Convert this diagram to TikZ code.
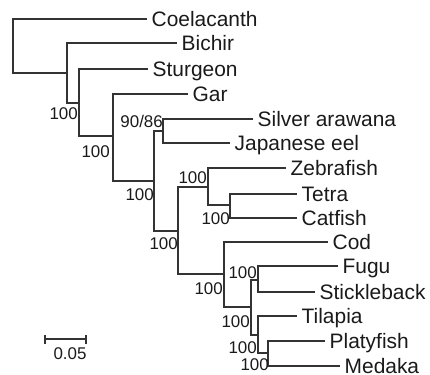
\documentclass[tikz,border=0pt]{standalone}
\usepackage{fontspec}
\setmainfont{Liberation Sans}
\definecolor{linec}{HTML}{333333}
\definecolor{textc}{HTML}{1A1A1A}
\begin{document}
\begin{tikzpicture}[x=1bp,y=-1bp,
  br/.style={draw=linec, line width=1.2bp},
  leaf/.style={anchor=west, inner xsep=4.5bp, inner ysep=0pt, text height=15bp, text depth=0pt, font=\fontsize{21}{24}\selectfont, text=textc},
  sup/.style={anchor=east, inner sep=0pt, text height=12.2bp, text depth=0pt, font=\fontsize{17}{20}\selectfont, text=textc}]
\useasboundingbox (0,0) rectangle (430,375);
% internal nodes
\coordinate (root) at (13,46);
\coordinate (nA) at (67,73);
\coordinate (nB) at (79,103);
\coordinate (nC) at (113,136);
\coordinate (nD) at (154,181);
\coordinate (nSE) at (163,131);
\coordinate (nE) at (178,231);
\coordinate (nZ) at (208,187);
\coordinate (nTC) at (230,205);
\coordinate (nF) at (224,274);
\coordinate (nG) at (251,307);
\coordinate (nFS) at (258,280);
\coordinate (nTPM) at (258,335);
\coordinate (nPM) at (268,353);
% leaves
\node[leaf] (coel) at (147,19) {Coelacanth};
\node[leaf] (bich) at (177,43) {Bichir};
\node[leaf] (stur) at (148,69) {Sturgeon};
\node[leaf] (gar) at (188,94) {Gar};
\node[leaf] (silv) at (253,119) {Silver arawana};
\node[leaf] (eel) at (230,143) {Japanese eel};
\node[leaf] (zebr) at (286,168) {Zebrafish};
\node[leaf] (tetr) at (297,194) {Tetra};
\node[leaf] (catf) at (297,218) {Catfish};
\node[leaf] (cod) at (328,242) {Cod};
\node[leaf] (fugu) at (338,266) {Fugu};
\node[leaf] (stic) at (315,292) {Stickleback};
\node[leaf] (tila) at (297,316) {Tilapia};
\node[leaf] (plat) at (325,341) {Platyfish};
\node[leaf] (meda) at (340,366) {Medaka};
% branches
\draw[br] (root) |- (coel.west);
\draw[br] (root) |- (nA);
\draw[br] (nA) |- (bich.west);
\draw[br] (nA) |- (nB);
\draw[br] (nB) |- (stur.west);
\draw[br] (nB) |- (nC);
\draw[br] (nC) |- (gar.west);
\draw[br] (nC) |- (nD);
\draw[br] (nD) |- (nSE);
\draw[br] (nD) |- (nE);
\draw[br] (nSE) |- (silv.west);
\draw[br] (nSE) |- (eel.west);
\draw[br] (nE) |- (nZ);
\draw[br] (nE) |- (nF);
\draw[br] (nZ) |- (zebr.west);
\draw[br] (nZ) |- (nTC);
\draw[br] (nTC) |- (tetr.west);
\draw[br] (nTC) |- (catf.west);
\draw[br] (nF) |- (cod.west);
\draw[br] (nF) |- (nG);
\draw[br] (nG) |- (nFS);
\draw[br] (nG) |- (nTPM);
\draw[br] (nFS) |- (fugu.west);
\draw[br] (nFS) |- (stic.west);
\draw[br] (nTPM) |- (tila.west);
\draw[br] (nTPM) |- (nPM);
\draw[br] (nPM) |- (plat.west);
\draw[br] (nPM) |- (meda.west);
% support values
\node[sup] (sB) at (78,113.5) {100};
\node[sup] (sC) at (110,151.5) {100};
\node[sup] (sSE) at (163,121) {90/86};
\node[sup] (sD) at (154,194) {100};
\node[sup] (sZ) at (207,177.5) {100};
\node[sup] (sTC) at (230,218) {100};
\node[sup] (sE) at (178,243) {100};
\node[sup] (sF) at (223,288.5) {100};
\node[sup] (sFS) at (257,272.5) {100};
\node[sup] (sG) at (250,321) {100};
\node[sup] (sTPM) at (257,347.5) {100};
\node[sup] (sPM) at (269,364.5) {100};
% scale bar
\coordinate (sbL) at (45,339);
\coordinate (sbR) at (86,339);
\draw[br] (sbL) -- (sbR);
\draw[br] ([yshift=-4.5bp]sbL) -- ([yshift=4.5bp]sbL);
\draw[br] ([yshift=-4.5bp]sbR) -- ([yshift=4.5bp]sbR);
\node[sup, anchor=center] (sbT) at (70,353.5) {0.05};
\end{tikzpicture}
\end{document}
